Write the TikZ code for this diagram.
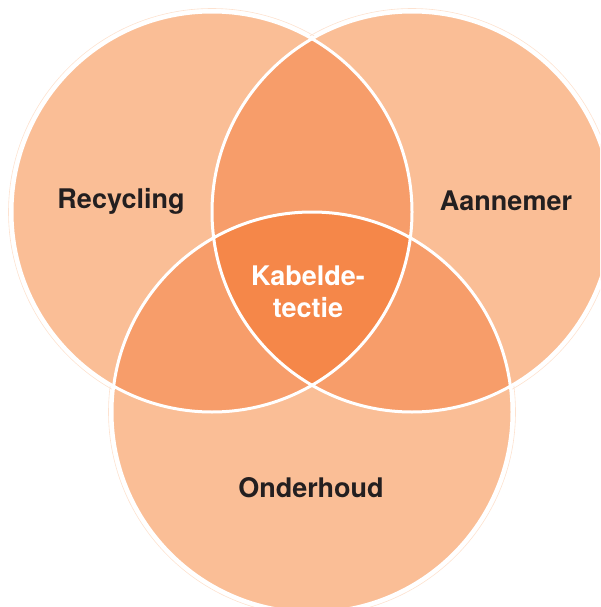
\documentclass[tikz,border=0pt]{standalone}
\usepackage{fontspec}
\setmainfont{TeX Gyre Heros}
\definecolor{light}{RGB}{250,190,150}
\definecolor{mid}{RGB}{247,157,106}
\definecolor{dark}{RGB}{245,135,73}
\definecolor{txt}{RGB}{35,31,32}
\begin{document}
\begin{tikzpicture}[x=1pt,y=-1pt,
  lbl/.style={font=\bfseries\fontsize{27}{32}\selectfont, text=txt, inner sep=0pt},
  halo/.style={draw=light!45, line width=0.6pt},
  ring/.style={draw=white, line width=3pt}]
\useasboundingbox (0,0) rectangle (600,607);
\clip (0,0) rectangle (600,607);
\coordinate (L) at (212,212);
\coordinate (R) at (412,212);
\coordinate (B) at (312,412);
\def\rad{200pt}
\foreach \c in {L,R,B} \path[halo] (\c) circle (203.5pt);
\foreach \c in {L,R,B} \fill[light] (\c) circle (\rad);
\begin{scope}
  \clip (L) circle (\rad);
  \fill[mid] (R) circle (\rad);
  \fill[mid] (B) circle (\rad);
\end{scope}
\begin{scope}
  \clip (R) circle (\rad);
  \fill[mid] (B) circle (\rad);
\end{scope}
\begin{scope}
  \clip (L) circle (\rad);
  \clip (R) circle (\rad);
  \fill[dark] (B) circle (\rad);
\end{scope}
\foreach \c in {L,R,B} \path[ring] (\c) circle (\rad);
\node[lbl] (rec) at (121,201) {Recycling};
\node[lbl] (aan) at (506,201) {Aannemer};
\node[lbl] (ond) at (311,488) {Onderhoud};
\node[lbl, text=white, align=center] (kab) at (308,292) {Kabelde-\\tectie};
\end{tikzpicture}
\end{document}
